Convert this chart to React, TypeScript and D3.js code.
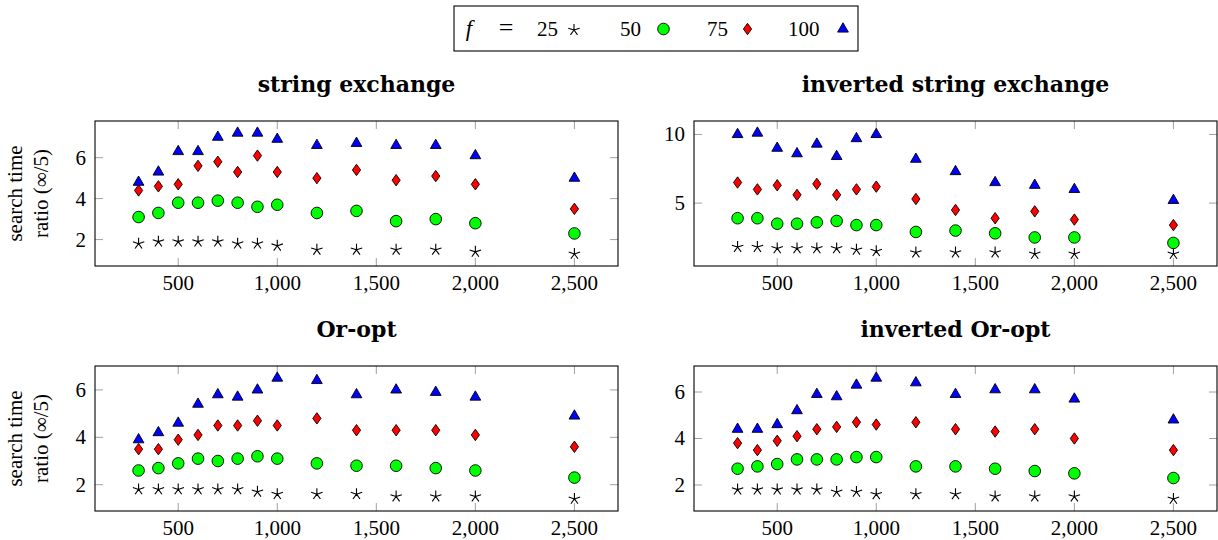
import * as d3 from 'd3';
import { useEffect, useRef } from 'react';

// problem sizes (x axis)
const sizes = [300, 400, 500, 600, 700, 800, 900, 1000, 1200, 1400, 1600, 1800, 2000, 2500];

// string exchange
const seF25 = [1.8, 1.9, 1.9, 1.9, 1.9, 1.8, 1.8, 1.7, 1.5, 1.5, 1.5, 1.5, 1.4, 1.3];
const seF50 = [3.1, 3.3, 3.8, 3.8, 3.9, 3.8, 3.6, 3.7, 3.3, 3.4, 2.9, 3.0, 2.8, 2.3];
const seF75 = [4.4, 4.6, 4.7, 5.6, 5.8, 5.3, 6.1, 5.3, 5.0, 5.4, 4.9, 5.1, 4.7, 3.5];
const seF100 = [4.8, 5.3, 6.3, 6.3, 7.0, 7.2, 7.2, 6.9, 6.6, 6.7, 6.6, 6.6, 6.1, 5.0];

// inverted string exchange
const iseF25 = [1.8, 1.8, 1.7, 1.7, 1.7, 1.7, 1.6, 1.5, 1.4, 1.4, 1.4, 1.3, 1.3, 1.3];
const iseF50 = [3.9, 3.9, 3.5, 3.5, 3.6, 3.7, 3.4, 3.4, 2.9, 3.0, 2.8, 2.5, 2.5, 2.1];
const iseF75 = [6.5, 6.0, 6.3, 5.6, 6.4, 5.6, 6.0, 6.2, 5.3, 4.5, 3.9, 4.4, 3.8, 3.4];
const iseF100 = [10.0, 10.1, 9.0, 8.6, 9.3, 8.4, 9.7, 10.0, 8.2, 7.3, 6.5, 6.3, 6.0, 5.2];

// Or-opt
const ooF25 = [1.8, 1.8, 1.8, 1.8, 1.8, 1.8, 1.7, 1.6, 1.6, 1.6, 1.5, 1.5, 1.5, 1.4];
const ooF50 = [2.6, 2.7, 2.9, 3.1, 3.0, 3.1, 3.2, 3.1, 2.9, 2.8, 2.8, 2.7, 2.6, 2.3];
const ooF75 = [3.5, 3.5, 3.9, 4.1, 4.5, 4.5, 4.7, 4.5, 4.8, 4.3, 4.3, 4.3, 4.1, 3.6];
const ooF100 = [3.9, 4.2, 4.6, 5.4, 5.8, 5.7, 6.0, 6.5, 6.4, 5.8, 6.0, 5.9, 5.7, 4.9];

// inverted Or-opt
const iooF25 = [1.8, 1.8, 1.8, 1.8, 1.8, 1.7, 1.7, 1.6, 1.6, 1.6, 1.5, 1.5, 1.5, 1.4];
const iooF50 = [2.7, 2.8, 2.9, 3.1, 3.1, 3.1, 3.2, 3.2, 2.8, 2.8, 2.7, 2.6, 2.5, 2.3];
const iooF75 = [3.8, 3.5, 3.9, 4.1, 4.4, 4.5, 4.7, 4.6, 4.7, 4.4, 4.3, 4.4, 4.0, 3.5];
const iooF100 = [4.4, 4.4, 4.6, 5.2, 5.9, 5.8, 6.3, 6.6, 6.4, 5.9, 6.1, 6.1, 5.7, 4.8];

const fLabels = ['25', '50', '75', '100'];
const xTicks = [500, 1000, 1500, 2000, 2500];
const yTicksSmall = [2, 4, 6];
const yTicksLarge = [5, 10];

const panels = [
  { title: 'string exchange', series: [seF25, seF50, seF75, seF100], yTicks: yTicksSmall, col: 0, row: 0 },
  { title: 'inverted string exchange', series: [iseF25, iseF50, iseF75, iseF100], yTicks: yTicksLarge, col: 1, row: 0 },
  { title: 'Or-opt', series: [ooF25, ooF50, ooF75, ooF100], yTicks: yTicksSmall, col: 0, row: 1 },
  { title: 'inverted Or-opt', series: [iooF25, iooF50, iooF75, iooF100], yTicks: yTicksSmall, col: 1, row: 1 },
];

const FONT = '"Liberation Serif", serif';
const TITLE_FONT = '"DejaVu Serif", serif';

// marker shapes
const starPath = (r) => {
  let p = '';
  for (let k = 0; k < 5; k++) {
    const a = (-90 + 72 * k) * (Math.PI / 180);
    p += `M0,0L${(r * Math.cos(a)).toFixed(2)},${(r * Math.sin(a)).toFixed(2)}`;
  }
  return p;
};
const trianglePath = (r) =>
  `M0,${-r}L${(r * Math.sqrt(3)) / 2},${r / 2}L${(-r * Math.sqrt(3)) / 2},${r / 2}Z`;
const diamondPath = (w, h) => `M0,${-h}L${w},0L0,${h}L${-w},0Z`;

function drawMarker(g, k) {
  if (k === 0) {
    g.append('path').attr('d', starPath(6)).attr('fill', 'none').attr('stroke', 'black').attr('stroke-width', 1.1);
  } else if (k === 1) {
    g.append('circle').attr('r', 5.8).attr('fill', '#00ff00').attr('stroke', 'black').attr('stroke-width', 0.9);
  } else if (k === 2) {
    g.append('path').attr('d', diamondPath(4.1, 5.7)).attr('fill', '#ff0000').attr('stroke', 'black').attr('stroke-width', 0.9);
  } else {
    g.append('path').attr('d', trianglePath(6.2)).attr('fill', '#0000ff').attr('stroke', 'black').attr('stroke-width', 0.9);
  }
}

const App = () => {
  const ref = useRef(null);

  useEffect(() => {
    const svg = d3.select(ref.current);
    svg.selectAll('*').remove();

    svg.append('rect').attr('width', 1218).attr('height', 540).attr('fill', 'white');

    var w = 523,
      h = 145,
      lefts = [95, 694],
      tops = [121, 366];

    const xMin = d3.min(sizes), xMax = d3.max(sizes);
    const xPad = (xMax - xMin) * 0.1;

    panels.forEach((p) => {
      const g = svg.append('g').attr('transform', `translate(${lefts[p.col]}, ${tops[p.row]})`);

      const x = d3.scaleLinear().domain([xMin - xPad, xMax + xPad]).range([0, w]);
      const all = p.series.flat();
      const yMin = d3.min(all), yMax = d3.max(all);
      const yPad = (yMax - yMin) * 0.1;
      const y = d3.scaleLinear().domain([yMin - yPad, yMax + yPad]).range([h, 0]);

      // ticks (inside, both sides)
      const tickLen = 8;
      xTicks.forEach((t) => {
        g.append('line').attr('x1', x(t)).attr('x2', x(t)).attr('y1', h).attr('y2', h - tickLen)
          .attr('stroke', '#a0a0a0').attr('stroke-width', 1);
        g.append('line').attr('x1', x(t)).attr('x2', x(t)).attr('y1', 0).attr('y2', tickLen)
          .attr('stroke', '#a0a0a0').attr('stroke-width', 1);
        g.append('text').attr('x', x(t)).attr('y', h + 24).attr('text-anchor', 'middle')
          .style('font-family', FONT).style('font-size', '21px').text(d3.format(',')(t));
      });
      p.yTicks.forEach((t) => {
        g.append('line').attr('x1', 0).attr('x2', tickLen).attr('y1', y(t)).attr('y2', y(t))
          .attr('stroke', '#a0a0a0').attr('stroke-width', 1);
        g.append('line').attr('x1', w).attr('x2', w - tickLen).attr('y1', y(t)).attr('y2', y(t))
          .attr('stroke', '#a0a0a0').attr('stroke-width', 1);
        g.append('text').attr('x', -9).attr('y', y(t)).attr('dy', '0.33em').attr('text-anchor', 'end')
          .style('font-family', FONT).style('font-size', '21px').text(t);
      });

      g.append('rect').attr('width', w).attr('height', h).attr('fill', 'none')
        .attr('stroke', 'black').attr('stroke-width', 1.1);

      // title
      g.append('text').attr('x', w / 2).attr('y', -29).attr('text-anchor', 'middle')
        .style('font-family', TITLE_FONT).style('font-weight', 'bold').style('font-size', '22px')
        .text(p.title);

      // y label on left column
      if (p.col === 0) {
        ['search time', 'ratio (\u221e/5)'].forEach((line, i) => {
          g.append('text')
            .attr('transform', `translate(${-73 + i * 26}, ${h / 2}) rotate(-90)`)
            .attr('text-anchor', 'middle')
            .style('font-family', FONT).style('font-size', '21px')
            .text(line);
        });
      }

      // marks
      p.series.forEach((vals, k) => {
        vals.forEach((v, i) => {
          const m = g.append('g').attr('transform', `translate(${x(sizes[i])}, ${y(v)})`);
          drawMarker(m, k);
        });
      });
    });

    // legend
    const lg = svg.append('g');
    lg.append('rect').attr('x', 454).attr('y', 6).attr('width', 404).attr('height', 45)
      .attr('fill', 'white').attr('stroke', 'black').attr('stroke-width', 1.1);
    lg.append('text').attr('x', 469).attr('y', 36).attr('text-anchor', 'middle')
      .style('font-family', FONT).style('font-style', 'italic').style('font-size', '23px').text('f');
    lg.append('text').attr('x', 506).attr('y', 36).attr('text-anchor', 'middle')
      .style('font-family', FONT).style('font-size', '26px').text('=');
    const labelX = [537, 620, 707, 788];
    const markX = [574, 663.5, 747.5, 843];
    fLabels.forEach((lab, k) => {
      lg.append('text').attr('x', labelX[k]).attr('y', 36)
        .style('font-family', FONT).style('font-size', '21px').text(lab);
      const m = lg.append('g').attr('transform', `translate(${markX[k]}, ${k === 0 ? 30 : 29})`);
      drawMarker(m, k);
    });
  }, []);

  return (
    <svg
      ref={ref}
      width={1218}
      height={540}
      style={{ position: 'absolute', left: 0, top: 0, display: 'block' }}
    ></svg>
  );
};

export default App;
